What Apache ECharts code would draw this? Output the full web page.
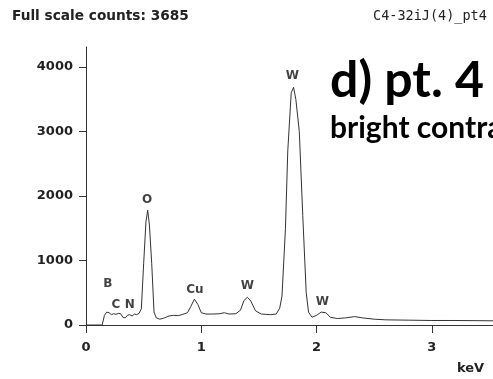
<!DOCTYPE html>
<html lang="en">
  <head>
    <meta charset="UTF-8" />
    <title>EDS spectrum pt4</title>
    <script src="https://cdnjs.cloudflare.com/ajax/libs/echarts/6.0.0/echarts.min.js"></script>
    <style>
      * {
        margin: 0;
        padding: 0;
      }
      body {
        background: #fff;
        overflow: hidden;
      }
      #chart {
        width: 493px;
        height: 379px;
      }
    </style>
  </head>
  <body>
    <div id="chart"></div>
    <script>
      // spectrum (keV / counts)
      const energy = [
        0, 0.14, 0.16, 0.18, 0.2, 0.22, 0.24, 0.26, 0.28, 0.3, 0.32, 0.34, 0.36,
        0.38, 0.4, 0.42, 0.44, 0.46, 0.48, 0.5, 0.52, 0.535, 0.55, 0.57, 0.59,
        0.61, 0.64, 0.68, 0.72, 0.76, 0.8, 0.84, 0.88, 0.91, 0.94, 0.97, 1.0,
        1.04, 1.1, 1.16, 1.2, 1.24, 1.3, 1.34, 1.37, 1.4, 1.43, 1.47, 1.52, 1.6,
        1.65, 1.68, 1.7, 1.73, 1.75, 1.78, 1.8, 1.82, 1.85, 1.88, 1.91, 1.93,
        1.96, 2.0, 2.04, 2.08, 2.12, 2.18, 2.25, 2.33, 2.4, 2.5, 2.6, 2.8, 3.0,
        3.2, 3.53,
      ];
      const counts = [
        0, 0, 150, 200, 190, 160, 175, 165, 180, 175, 120, 110, 150, 160, 140,
        170, 160, 180, 250, 950, 1600, 1780, 1550, 950, 200, 110, 90, 110, 140,
        150, 145, 165, 190, 290, 400, 320, 190, 170, 170, 175, 190, 170, 175,
        230, 380, 430, 370, 220, 170, 160, 170, 260, 450, 1500, 2700, 3600,
        3685, 3500, 3000, 1700, 500, 200, 120, 150, 200, 190, 120, 100, 110,
        130, 110, 90, 80, 75, 70, 70, 65,
      ];
      // peak labels
      const peakNames = ["B", "C", "N", "O", "Cu", "W", "W", "W"];
      const peakEnergy = [0.19, 0.26, 0.38, 0.53, 0.945, 1.4, 1.79, 2.05];
      const peakLabelAt = [635, 310, 310, 1940, 540, 600, 3860, 355];
      const xTicks = [0, 1, 2, 3];

      const chart = echarts.init(document.getElementById("chart"));
      const axisColor = "#333";
      const labelFont = "DejaVu Sans";

      chart.setOption({
        animation: false,
        title: [
          {
            text: "Full scale counts: 3685",
            left: 12,
            top: 9,
            padding: 0,
            textStyle: { fontFamily: labelFont, fontSize: 13.7, fontWeight: "bold", color: "#222" },
          },
          {
            text: "C4-32iJ(4)_pt4",
            left: 373,
            top: 9,
            padding: 0,
            textStyle: { fontFamily: "DejaVu Sans Mono", fontSize: 13.5, fontWeight: "normal", color: "#222" },
          },
          {
            text: "d) pt. 4",
            left: 330,
            top: 56,
            padding: 0,
            textStyle: { fontFamily: "Lato", fontSize: 50, fontWeight: "bold", color: "#000" },
          },
          {
            text: "bright contrast",
            left: 330,
            top: 113,
            padding: 0,
            textStyle: { fontFamily: "Lato", fontSize: 30, fontWeight: "bold", color: "#000" },
          },
          {
            text: "keV",
            left: 457,
            top: 362,
            padding: 0,
            textStyle: { fontFamily: labelFont, fontSize: 13, fontWeight: "bold", color: "#222" },
          },
        ],
        grid: { left: 86, right: 0, top: 47, bottom: 54 },
        xAxis: {
          type: "value",
          min: 0,
          max: 3.53,
          interval: 1,
          splitLine: { show: false },
          axisLine: { lineStyle: { color: axisColor, width: 1 } },
          axisTick: { length: 8, lineStyle: { color: axisColor }, customValues: xTicks },
          axisLabel: {
            margin: 16,
            fontFamily: labelFont,
            fontSize: 13,
            fontWeight: "bold",
            color: "#222",
            customValues: xTicks,
          },
        },
        yAxis: {
          type: "value",
          min: 0,
          max: 4310,
          interval: 1000,
          splitLine: { show: false },
          axisLine: { show: true, lineStyle: { color: axisColor, width: 1 } },
          axisTick: { show: true, length: 7, lineStyle: { color: axisColor } },
          axisLabel: {
            showMaxLabel: false,
            margin: 13,
            fontFamily: labelFont,
            fontSize: 13,
            fontWeight: "bold",
            color: "#222",
            formatter: (v) => String(v),
          },
        },
        series: [
          {
            type: "line",
            data: energy.map((e, i) => [e, counts[i]]),
            showSymbol: false,
            lineStyle: { color: "#333", width: 1 },
            z: 3,
          },
          {
            type: "scatter",
            symbolSize: 0,
            data: peakNames.map((n, i) => ({ name: n, value: [peakEnergy[i], peakLabelAt[i]] })),
            label: {
              show: true,
              position: "inside",
              formatter: "{b}",
              fontFamily: labelFont,
              fontSize: 12,
              fontWeight: "bold",
              color: "#111",
            },
          },
        ],
      });
    </script>
  </body>
</html>
